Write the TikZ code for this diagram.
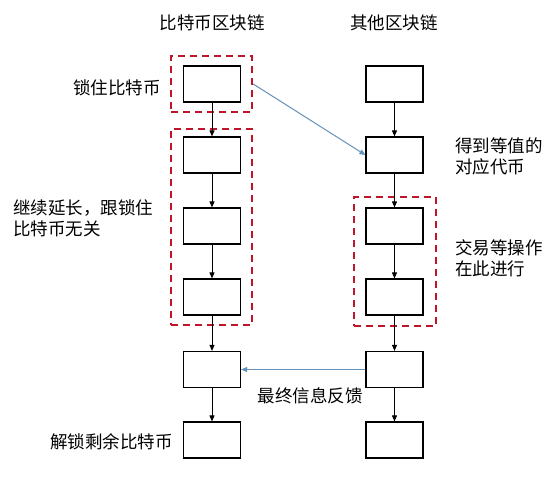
\documentclass[tikz,border=0pt]{standalone}
\usepackage{fontspec}
\setmainfont{Noto Sans CJK SC}
\usetikzlibrary{arrows.meta}
\definecolor{dashred}{RGB}{192,20,40}
\definecolor{linkblue}{RGB}{100,145,185}
\tikzset{
  blk/.style={draw=black, line width=1.2pt, minimum width=57pt, minimum height=36pt, inner sep=0pt},
  grp/.style={draw=dashred, line width=2.4pt, dash pattern=on 7pt off 5pt},
  lbl/.style={font=\fontsize{17.5}{21}\selectfont, inner sep=0pt, align=left},
  chain/.style={draw=black, line width=1pt, -{Triangle[length=6pt,width=5pt]}},
  link/.style={draw=linkblue, line width=1pt, -{Triangle[length=6pt,width=5pt]}}
}
\begin{document}
\begin{tikzpicture}[x=1pt,y=-1pt]
\useasboundingbox (0,0) rectangle (556,481);
% left chain
\node[blk] (l1) at (212,84) {};
\node[blk] (l2) at (212,155) {};
\node[blk] (l3) at (212,226) {};
\node[blk] (l4) at (212,297) {};
\node[blk] (l5) at (212,369.5) {};
\node[blk] (l6) at (212,440) {};
% right chain
\node[blk] (r1) at (394.5,84) {};
\node[blk] (r2) at (394.5,155) {};
\node[blk] (r3) at (394.5,226) {};
\node[blk] (r4) at (394.5,297) {};
\node[blk] (r5) at (394.5,369.5) {};
\node[blk] (r6) at (394.5,440) {};
% dashed groups
\node[grp, minimum width=81pt, minimum height=56pt, inner sep=0pt] (glock) at (211.5,84) {};
\node[grp, minimum width=81pt, minimum height=196pt, inner sep=0pt] (gcont) at (211.5,227) {};
\node[grp, minimum width=82pt, minimum height=129pt, inner sep=0pt] (gtrade) at (395,261.5) {};
% chain arrows
\draw[chain] (l1) -- (l2);
\draw[chain] (l2) -- (l3);
\draw[chain] (l3) -- (l4);
\draw[chain] (l4) -- (l5);
\draw[chain] (l5) -- (l6);
\draw[chain] (r1) -- (r2);
\draw[chain] (r2) -- (r3);
\draw[chain] (r3) -- (r4);
\draw[chain] (r4) -- (r5);
\draw[chain] (r5) -- (r6);
% cross links
\draw[link] (glock.east) -- (r2.west);
\draw[link] (r5.west) -- (l5.east);
% labels
\node[lbl] (t1) at (212,23) {比特币区块链};
\node[lbl] (t2) at (394,23) {其他区块链};
\node[lbl, anchor=east] (a1) at (161,88) {锁住比特币};
\node[lbl, anchor=west] (a2) at (13,218) {继续延长，跟锁住\\比特币无关};
\node[lbl, anchor=west] (a3) at (455,156) {得到等值的\\对应代币};
\node[lbl, anchor=west] (a4) at (455,258) {交易等操作\\在此进行};
\node[lbl] (a5) at (310,396) {最终信息反馈};
\node[lbl, anchor=east] (a6) at (173,442) {解锁剩余比特币};
\end{tikzpicture}
\end{document}
